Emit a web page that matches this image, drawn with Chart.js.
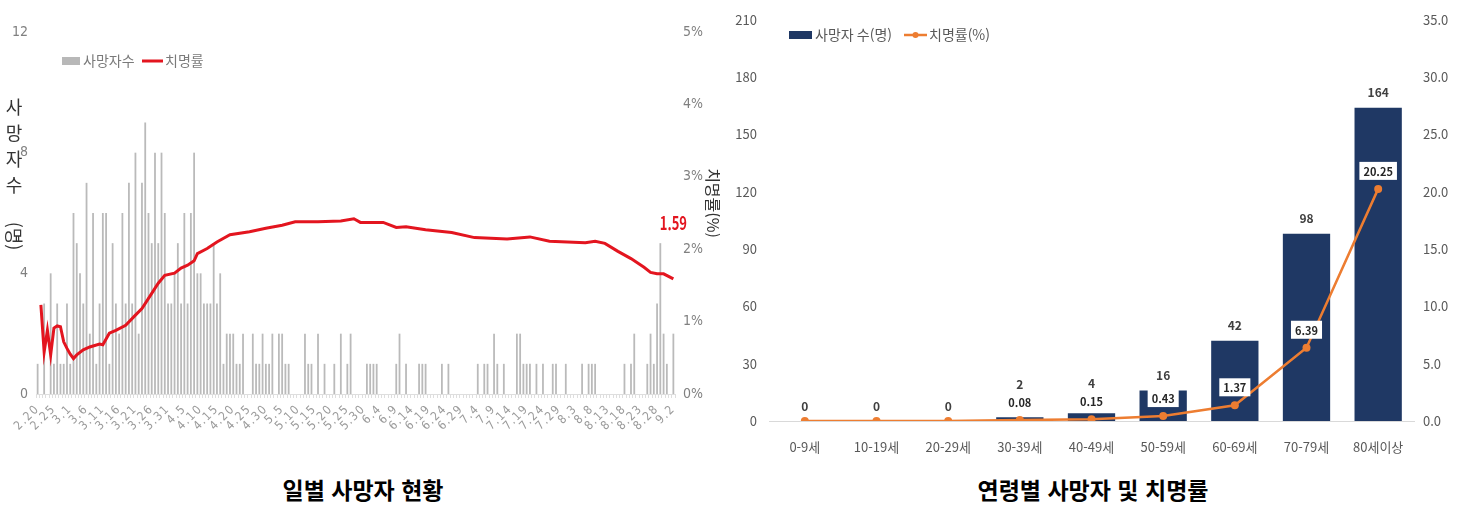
<!DOCTYPE html>
<html lang="ko">
<head>
<meta charset="utf-8">
<script src="https://cdn.jsdelivr.net/npm/chart.js@4.4.0/dist/chart.umd.min.js"></script>
<style>
  html, body { margin: 0; padding: 0; background: #fff; }
  #wrap { position: relative; width: 1468px; height: 505px; overflow: hidden; }
  canvas { position: absolute; top: 0; }
  #dailyChart { left: 0; }
  #ageChart { left: 720px; }
  .caption {
    position: absolute; top: 475px; height: 28px; line-height: 28px;
    font-family: "Noto Sans CJK KR", sans-serif; font-weight: bold; font-size: 23px;
    color: #000; text-align: center;
  }
</style>
</head>
<body>
<div id="wrap">
  <canvas id="dailyChart" width="720" height="470"></canvas>
  <canvas id="ageChart" width="748" height="470"></canvas>
  <div class="caption" style="left:0;width:726px;">일별 사망자 현황</div>
  <div class="caption" style="left:720px;width:746px;">연령별 사망자 및 치명률</div>
</div>
<script>
// ---- 일별 데이터 (2.20 ~ 9.2) ----
const monthSpans = [[2, 20, 29], [3, 1, 31], [4, 1, 30], [5, 1, 31], [6, 1, 30], [7, 1, 31], [8, 1, 31], [9, 1, 2]];
const dateLabels = [];
monthSpans.forEach(([m, from, to]) => {
    for (let d = from; d <= to; d++) dateLabels.push(m + '.' + d);
});

// 일별 사망자수 (명)
const dailyDeaths = [
    1, 0, 3, 0, 4, 1, 3, 1, 1, 3,
    1, 6, 5, 4, 3, 7, 2, 6, 1, 3,
    6, 6, 1, 5, 3, 2, 6, 3, 7, 3,
    8, 2, 7, 9, 6, 5, 8, 5, 8, 6,
    3, 3, 4, 5, 3, 6, 3, 6, 8, 4,
    4, 3, 3, 3, 5, 3, 4, 1, 2, 2,
    2, 1, 1, 2, 0, 0, 2, 1, 1, 2,
    1, 1, 2, 0, 2, 2, 1, 1, 0, 0,
    0, 0, 2, 1, 1, 0, 2, 0, 1, 0,
    0, 1, 0, 2, 0, 1, 2, 0, 0, 0,
    0, 1, 1, 1, 1, 0, 0, 0, 0, 0,
    1, 2, 0, 1, 0, 0, 0, 1, 1, 1,
    0, 0, 0, 0, 1, 0, 1, 0, 0, 0,
    0, 0, 0, 0, 0, 1, 0, 1, 1, 0,
    2, 1, 0, 1, 0, 0, 0, 2, 2, 1,
    1, 1, 0, 1, 0, 1, 0, 0, 1, 1,
    0, 0, 1, 0, 0, 0, 0, 1, 0, 1,
    1, 1, 0, 0, 0, 0, 0, 0, 0, 0,
    1, 0, 1, 2, 0, 0, 0, 1, 2, 1,
    3, 5, 2, 1, 0, 2
];

// 치명률(%) - 그림에서 읽은 지점들 (일자 인덱스, 값)
const rateDays = [1, 2, 3, 4, 5, 6, 7, 8, 9, 10, 11, 12, 14, 16, 19, 20, 22, 24, 27, 30,
    32, 35, 37, 39, 42, 44, 46, 48, 49, 52, 55, 59, 65, 70, 75, 79, 86, 93, 97, 99,
    106, 110, 113, 119, 127, 134, 144, 151, 157, 168, 171, 174, 178, 182, 186, 188, 190, 192, 195];
const rateValues = [1.23, 0.58, 0.88, 0.54, 0.91, 0.94, 0.93, 0.72, 0.63, 0.55, 0.49, 0.54, 0.61, 0.65, 0.69, 0.68, 0.84, 0.88, 0.95, 1.09,
    1.18, 1.39, 1.53, 1.64, 1.67, 1.74, 1.78, 1.84, 1.94, 2.01, 2.10, 2.20, 2.24, 2.29, 2.33, 2.38, 2.38, 2.39, 2.42, 2.37,
    2.37, 2.30, 2.31, 2.27, 2.23, 2.16, 2.14, 2.17, 2.11, 2.09, 2.11, 2.08, 1.97, 1.87, 1.75, 1.68, 1.66, 1.66, 1.59];

// ---- 연령별 데이터 ----
const ageGroups = ['0-9세', '10-19세', '20-29세', '30-39세', '40-49세', '50-59세', '60-69세', '70-79세', '80세이상'];
const ageDeaths = [0, 0, 0, 2, 4, 16, 42, 98, 164];
const ageRates = [0, 0, 0, 0.08, 0.15, 0.43, 1.37, 6.39, 20.25];

const rateData = rateDays.map((d, i) => ({ x: dateLabels[d], y: rateValues[i] }));

const KR = '"Noto Sans CJK KR", "Noto Sans", sans-serif';
const NARROW = '"Liberation Sans Narrow", "DejaVu Sans Condensed", "Noto Sans", sans-serif';

// 왼쪽 차트 장식: 범례, 축 제목, 마지막 값 표시
const dailyDecor = {
    id: 'dailyDecor',
    beforeDraw(chart) {
        // 날짜 눈금 글자만 간격을 넓게
        const xs = chart.scales.x;
        if (!xs._spaced) {
            const orig = xs.drawLabels;
            xs.drawLabels = function (area) {
                this.ctx.save();
                this.ctx.letterSpacing = '1.5px';
                orig.call(this, area);
                this.ctx.restore();
            };
            xs._spaced = true;
        }
    },
    afterDraw(chart) {
        const ctx = chart.ctx;
        ctx.save();
        // 범례
        ctx.fillStyle = '#b8b8b8';
        ctx.fillRect(62, 57, 18, 8);
        ctx.font = '14px ' + KR;
        ctx.fillStyle = '#7a7a7a';
        ctx.textBaseline = 'middle';
        ctx.textAlign = 'left';
        ctx.fillText('사망자수', 83, 61);
        ctx.strokeStyle = '#e3151f';
        ctx.lineWidth = 3;
        ctx.beginPath();
        ctx.moveTo(142, 61);
        ctx.lineTo(163, 61);
        ctx.stroke();
        ctx.fillText('치명률', 165, 61);

        // 왼쪽 축 제목 (세로쓰기)
        ctx.fillStyle = '#333';
        ctx.font = '18px ' + KR;
        ctx.textAlign = 'center';
        ['사', '망', '자', '수'].forEach((ch, i) => ctx.fillText(ch, 14, 107 + i * 26));
        ctx.save();
        ctx.translate(14, 236);
        ctx.rotate(Math.PI / 2);
        ctx.fillText('(명)', 0, 0);
        ctx.restore();

        // 오른쪽 축 제목
        ctx.save();
        ctx.translate(713, 203);
        ctx.rotate(Math.PI / 2);
        ctx.font = '16px ' + KR;
        ctx.fillText('치명률(%)', 0, 0);
        ctx.restore();

        // 마지막 치명률 값 (좁은 글꼴 느낌으로 가로 축소)
        const pts = chart.getDatasetMeta(0).data;
        const last = pts[pts.length - 1];
        ctx.save();
        ctx.translate(last.x, last.y - 56);
        ctx.scale(0.72, 1);
        ctx.fillStyle = '#e3151f';
        ctx.font = 'bold 18px ' + KR;
        ctx.fillText(rateValues[rateValues.length - 1].toFixed(2), 0, 0);
        ctx.restore();
        ctx.restore();
    }
};

new Chart(document.getElementById('dailyChart'), {
    type: 'bar',
    data: {
        labels: dateLabels,
        datasets: [
            {
                type: 'line', label: '치명률', data: rateData, yAxisID: 'yRate',
                borderColor: '#e3151f', borderWidth: 3, pointRadius: 0, tension: 0, order: 0
            },
            {
                type: 'bar', label: '사망자수', data: dailyDeaths, yAxisID: 'yDeaths',
                backgroundColor: '#bababa', barPercentage: 0.55, categoryPercentage: 1, order: 1
            }
        ]
    },
    options: {
        responsive: false,
        animation: false,
        layout: { padding: { top: 32, left: 0, right: 0, bottom: 0 } },
        plugins: { legend: { display: false }, tooltip: { enabled: false } },
        scales: {
            x: {
                ticks: {
                    autoSkip: false, minRotation: 45, maxRotation: 45, padding: 4,
                    color: '#9a9a9a', font: { size: 12, family: NARROW },
                    callback(v, i) { return i % 5 === 0 ? this.getLabelForValue(v) : ''; }
                },
                grid: { drawOnChartArea: false, tickLength: 4, color: '#dedede' },
                border: { color: '#dedede' },
                afterFit(s) { s.height = 76; }
            },
            yDeaths: {
                position: 'left', min: 0, max: 12,
                ticks: { stepSize: 4, padding: 8, color: '#808080', font: { size: 14, family: NARROW } },
                grid: { display: false, drawTicks: false },
                border: { display: false },
                afterFit(s) { s.width = 36; }
            },
            yRate: {
                position: 'right', min: 0, max: 5,
                ticks: { stepSize: 1, padding: 8, color: '#808080', font: { size: 14, family: NARROW }, callback: v => v + '%' },
                grid: { display: false, drawTicks: false },
                border: { display: false },
                afterFit(s) { s.width = 45; }
            }
        }
    },
    plugins: [dailyDecor]
});

// 오른쪽 차트 장식: 막대 값, 치명률 값 상자, 범례
const ageDecor = {
    id: 'ageDecor',
    afterDatasetsDraw(chart) {
        const ctx = chart.ctx;
        const bars = chart.getDatasetMeta(1).data;
        const pts = chart.getDatasetMeta(0).data;
        ctx.save();
        ctx.textAlign = 'center';
        ctx.textBaseline = 'middle';
        bars.forEach((bar, i) => {
            let labelY = bar.y - 15;
            if (ageRates[i] > 0) {
                const txt = ageRates[i].toFixed(2);
                ctx.font = 'bold 11px ' + KR;
                const w = ctx.measureText(txt).width + 8;
                const cy = pts[i].y - 18;
                ctx.fillStyle = '#fff';
                ctx.fillRect(pts[i].x - w / 2, cy - 9, w, 18);
                ctx.fillStyle = '#262626';
                ctx.fillText(txt, pts[i].x, cy + 1);
                labelY = Math.min(labelY, cy - 18);
            }
            ctx.font = 'bold 12px ' + KR;
            ctx.fillStyle = '#404040';
            ctx.fillText(String(ageDeaths[i]), bar.x, labelY);
        });

        // 범례
        ctx.fillStyle = '#1f3864';
        ctx.fillRect(69, 31, 23, 8);
        ctx.font = '14px ' + KR;
        ctx.fillStyle = '#595959';
        ctx.textAlign = 'left';
        ctx.fillText('사망자 수(명)', 95, 35);
        ctx.strokeStyle = '#ed7d31';
        ctx.lineWidth = 2.5;
        ctx.beginPath();
        ctx.moveTo(184, 35);
        ctx.lineTo(207, 35);
        ctx.stroke();
        ctx.fillStyle = '#ed7d31';
        ctx.beginPath();
        ctx.arc(195.5, 35, 3, 0, Math.PI * 2);
        ctx.fill();
        ctx.fillStyle = '#595959';
        ctx.fillText('치명률(%)', 209, 35);
        ctx.restore();
    }
};

new Chart(document.getElementById('ageChart'), {
    type: 'bar',
    data: {
        labels: ageGroups,
        datasets: [
            {
                type: 'line', label: '치명률(%)', data: ageRates, yAxisID: 'yRate',
                borderColor: '#ed7d31', borderWidth: 2.5, pointRadius: 4,
                pointBackgroundColor: '#ed7d31', pointBorderWidth: 0, tension: 0, order: 0
            },
            {
                type: 'bar', label: '사망자 수(명)', data: ageDeaths, yAxisID: 'yDeaths',
                backgroundColor: '#1f3864', barPercentage: 0.66, categoryPercentage: 1, order: 1
            }
        ]
    },
    options: {
        responsive: false,
        animation: false,
        layout: { padding: { top: 11, left: 0, right: 0, bottom: 0 } },
        plugins: { legend: { display: false }, tooltip: { enabled: false } },
        scales: {
            x: {
                ticks: { maxRotation: 0, padding: 18, color: '#595959', font: { size: 13, family: KR } },
                grid: { display: false, drawTicks: false },
                border: { color: '#d9d9d9' },
                afterFit(s) { s.height = 49; }
            },
            yDeaths: {
                position: 'left', min: 0, max: 210,
                ticks: { stepSize: 30, padding: 12, color: '#595959', font: { size: 13, family: KR } },
                grid: { display: false, drawTicks: false },
                border: { display: false },
                afterFit(s) { s.width = 49; }
            },
            yRate: {
                position: 'right', min: 0, max: 35,
                ticks: { stepSize: 5, padding: 9, color: '#595959', font: { size: 13, family: KR }, callback: v => v.toFixed(1) },
                grid: { display: false, drawTicks: false },
                border: { display: false },
                afterFit(s) { s.width = 54; }
            }
        }
    },
    plugins: [ageDecor]
});
</script>
</body>
</html>
